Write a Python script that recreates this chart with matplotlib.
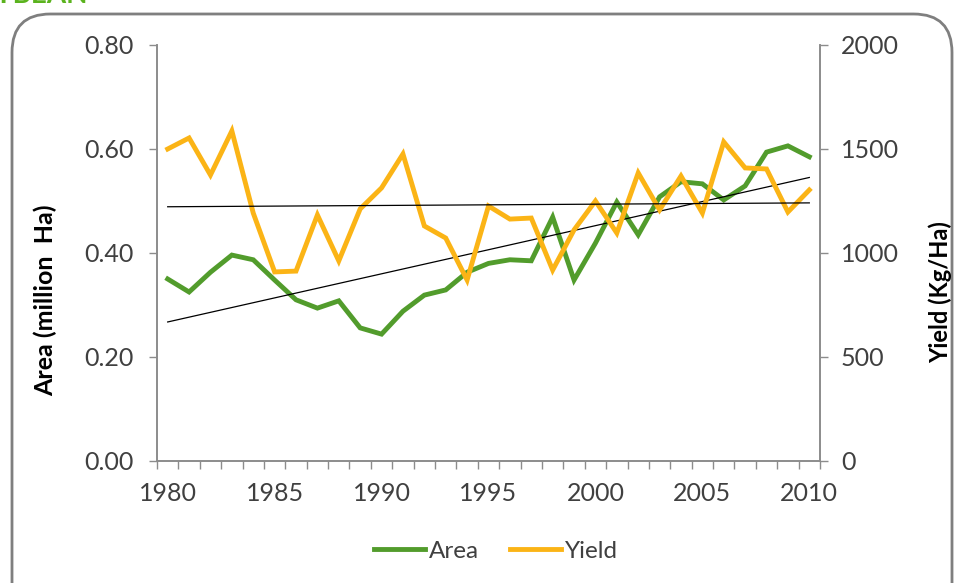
import matplotlib.pyplot as plt
import numpy as np
from matplotlib.patches import FancyBboxPatch

plt.rcParams['font.family'] = ['Lato', 'DejaVu Sans']
plt.rcParams['font.size'] = 18

# Data
years = list(range(1980, 2011))
area = [0.350, 0.325, 0.363, 0.396, 0.387, 0.348, 0.310, 0.294, 0.308, 0.256,
        0.244, 0.288, 0.319, 0.329, 0.363, 0.380, 0.387, 0.385, 0.469, 0.348,
        0.419, 0.498, 0.435, 0.508, 0.537, 0.533, 0.502, 0.529, 0.594, 0.606,
        0.585]
yield_kg = [1500, 1553, 1375, 1587, 1192, 909, 913, 1183, 962, 1212,
            1313, 1476, 1130, 1072, 870, 1226, 1163, 1168, 918, 1111,
            1250, 1096, 1385, 1207, 1370, 1192, 1534, 1409, 1404, 1197,
            1303]
area_ticks = [0.0, 0.2, 0.4, 0.6, 0.8]
yield_ticks = [0, 500, 1000, 1500, 2000]
year_labels = [1980, 1985, 1990, 1995, 2000, 2005, 2010]

green = '#529C2C'
orange = '#FBB416'
gray = '#8C8C8C'
txt = '#404040'

fig = plt.figure(figsize=(9.6, 5.83), dpi=100)

# rounded frame around the chart
box = FancyBboxPatch((12 / 960, -0.1), 940 / 960, 1 - 14 / 583 + 0.1,
                     boxstyle='round,pad=0,rounding_size=0.04',
                     transform=fig.transFigure, facecolor='white',
                     edgecolor='#7F7F7F', linewidth=2, zorder=-10,
                     mutation_aspect=960 / 583)
fig.patches.append(box)

# title above the frame, mostly cut off as in the source
fig.text(88 / 960, 1 - 3 / 583, 'SOYBEAN', color='#5BB31E', fontsize=20,
         fontweight='bold', ha='right', va='baseline')

ax = fig.add_axes([157 / 960, 1 - 461 / 583, (820 - 157) / 960, (461 - 45) / 583])
ax.set_facecolor('none')
ax2 = ax.twinx()

x = np.array(years)
la, = ax.plot(x, area, color=green, lw=3.5, solid_joinstyle='miter', label='Area', zorder=3)
ly, = ax2.plot(x, yield_kg, color=orange, lw=3.5, solid_joinstyle='miter', label='Yield', zorder=3)

# linear trend lines
pa = np.polyfit(x, area, 1)
ax.plot(x, np.polyval(pa, x), color='black', lw=0.9, zorder=4)
py = np.polyfit(x, yield_kg, 1)
ax2.plot(x, np.polyval(py, x), color='black', lw=0.9, zorder=4)

ax.set_xlim(1979.5, 2010.5)
ax.set_ylim(0, 0.8)
ax2.set_ylim(0, 2000)

ax.set_xticks(year_labels)
ax.set_xticklabels([str(y) for y in year_labels])
ax.set_xticks(np.arange(1979.5, 2011, 1), minor=True)
ax.tick_params(axis='x', which='major', length=0, pad=15)
ax.tick_params(axis='x', which='minor', length=6, color=gray, width=1)

ax.set_yticks(area_ticks)
ax.set_yticklabels([f'{v:.2f}' for v in area_ticks])
ax.tick_params(axis='y', length=6, color=gray, width=1, pad=11)
ax2.set_yticks(yield_ticks)
ax2.tick_params(axis='y', length=6, color=gray, width=1, pad=9)

for a in (ax, ax2):
    a.spines['top'].set_visible(False)
    for s in ('left', 'right', 'bottom'):
        a.spines[s].set_color(gray)
        a.spines[s].set_linewidth(1.2)
    a.tick_params(labelcolor=txt)

fig.text(45 / 960, 1 - 300 / 583, 'Area (million  Ha)', fontweight='bold',
         fontsize=18, rotation=90, ha='center', va='center')
fig.text(940 / 960, 1 - 292 / 583, 'Yield (Kg/Ha)', fontweight='bold',
         fontsize=17, rotation=90, ha='center', va='center')

fig.legend(handles=[la, ly], loc='center', bbox_to_anchor=(496 / 960, 1 - 551 / 583),
           ncol=2, frameon=False, handlelength=2.1, handletextpad=0.15,
           columnspacing=1.3, fontsize=17.5, labelcolor=txt)

fig.savefig('out.png', dpi=100)
